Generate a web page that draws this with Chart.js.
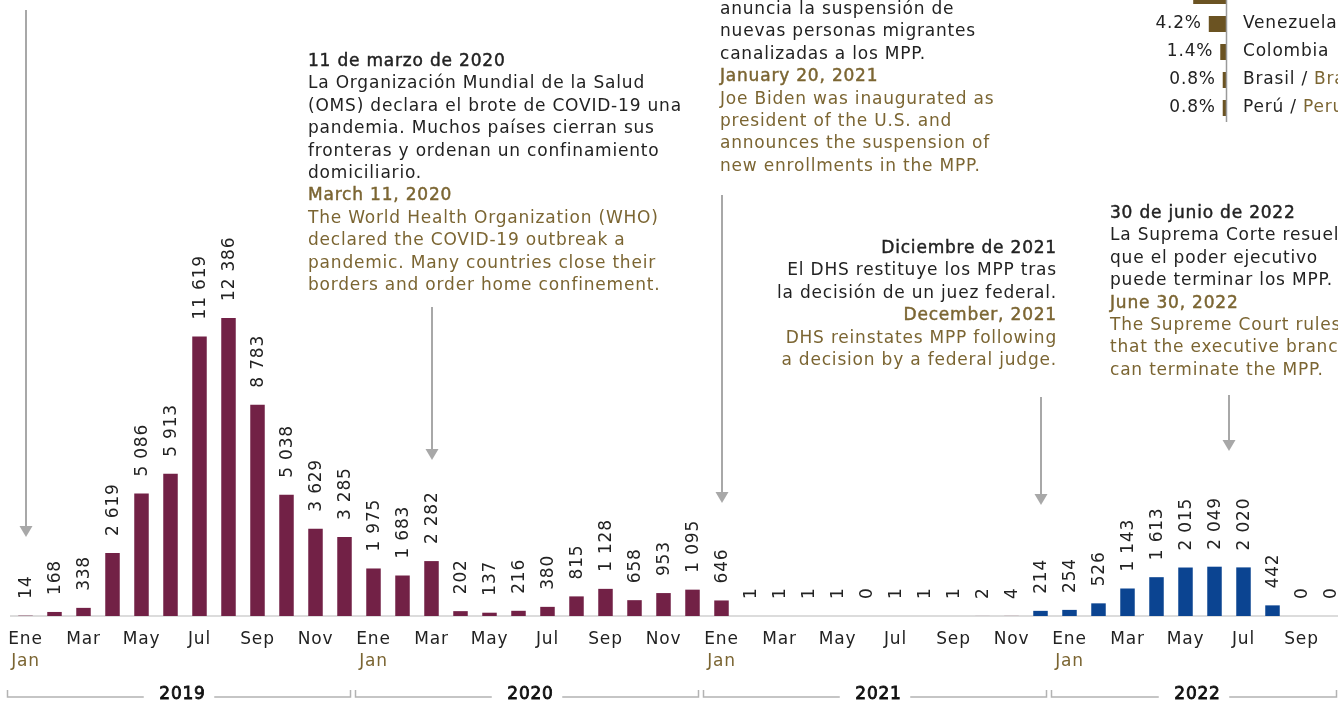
<!DOCTYPE html>
<html lang="es">
<head>
<meta charset="utf-8">
<title>MPP por mes</title>
<script src="https://cdn.jsdelivr.net/npm/chart.js@4.4.1/dist/chart.umd.min.js"></script>
<style>
  html, body { margin:0; padding:0; background:#fff; }
  body { position:relative; width:1338px; height:704px; overflow:hidden; font-family:"DejaVu Sans", sans-serif; }
  canvas { position:absolute; }
  #main { left:0; top:0; }
  #origin { left:1100px; top:-18px; }
  .note { position:absolute; font-size:17px; line-height:22.4px; color:#222; white-space:nowrap; letter-spacing:0.8px; }
  .note b { font-weight:normal; -webkit-text-stroke:0.45px currentColor; }
  .en { color:#7b6532; }
  .right { text-align:right; }
</style>
</head>
<body>
<canvas id="main" width="1346" height="704"></canvas>
<canvas id="origin" width="300" height="150"></canvas>

<div class="note" style="left:720px;top:-3px">anuncia la suspensión de<br>nuevas personas migrantes<br>canalizadas a los MPP.<br><b class="en">January 20, 2021</b><br><span class="en">Joe Biden was inaugurated as<br>president of the U.S. and<br>announces the suspension of<br>new enrollments in the MPP.</span></div>

<div class="note" style="left:308px;top:49px"><b>11 de marzo de 2020</b><br>La Organización Mundial de la Salud<br>(OMS) declara el brote de COVID-19 una<br>pandemia. Muchos países cierran sus<br>fronteras y ordenan un confinamiento<br>domiciliario.<br><b class="en">March 11, 2020</b><br><span class="en">The World Health Organization (WHO)<br>declared the COVID-19 outbreak a<br>pandemic. Many countries close their<br>borders and order home confinement.</span></div>

<div class="note right" style="right:281px;top:236px"><b>Diciembre de 2021</b><br>El DHS restituye los MPP tras<br>la decisión de un juez federal.<br><b class="en">December, 2021</b><br><span class="en">DHS reinstates MPP following<br>a decision by a federal judge.</span></div>

<div class="note" style="left:1110px;top:201px"><b>30 de junio de 2022</b><br>La Suprema Corte resuelve<br>que el poder ejecutivo<br>puede terminar los MPP.<br><b class="en">June 30, 2022</b><br><span class="en">The Supreme Court rules<br>that the executive branch<br>can terminate the MPP.</span></div>

<script>
const FONT = '"DejaVu Sans", sans-serif';
const DARK = '#222222';
const GOLD = '#7b6532';
const MAROON = '#722146';
const BLUE = '#0b4491';

const monthsEs = ['Ene','Feb','Mar','Abr','May','Jun','Jul','Ago','Sep','Oct','Nov','Dic'];
const monthJanEn = 'Jan';
const years = ['2019','2020','2021','2022'];

const counts2019 = [14, 168, 338, 2619, 5086, 5913, 11619, 12386, 8783, 5038, 3629, 3285];
const counts2020 = [1975, 1683, 2282, 202, 137, 216, 380, 815, 1128, 658, 953, 1095];
const counts2021 = [646, 1, 1, 1, 1, 0, 1, 1, 1, 2, 4, 214];
const counts2022 = [254, 526, 1143, 1613, 2015, 2049, 2020, 442, 0, 0];

// from Dic 2021 on, MPP reinstated (blue bars)
const reinstatedFrom = 35;

// month index each arrow points to
const eventMonths = [0, 14, 24, 35, 41.5];

const originNames = ['Ecuador', 'Venezuela', 'Colombia', 'Brasil', 'Perú'];
const originNamesEn = ['', '', '', 'Brazil', 'Peru'];
const originShares = [8.0, 4.2, 1.4, 0.8, 0.8];

const allCounts = [...counts2019, ...counts2020, ...counts2021, ...counts2022];
const labels = allCounts.map((_, i) => monthsEs[i % 12] + ' ' + years[Math.floor(i / 12)]);

// arrow top / tip y for each event
const arrowSpans = [[10, 537], [307, 460], [195, 503], [397, 505], [395, 451]];

function fmt(n){
  return String(n).replace(/\B(?=(\d{3})+(?!\d))/g, ' ');
}

const overlay = {
  id: 'overlay',
  afterDraw(chart){
    const { ctx } = chart;
    const x = chart.scales.x;
    const meta = chart.getDatasetMeta(0);
    ctx.save();
    ctx.letterSpacing = '0.8px';

    // value labels, rotated
    ctx.font = '17px ' + FONT;
    ctx.fillStyle = DARK;
    ctx.textAlign = 'left';
    ctx.textBaseline = 'middle';
    meta.data.forEach((bar, i) => {
      ctx.save();
      ctx.translate(bar.x + 1, bar.y - 17);
      ctx.rotate(-Math.PI / 2);
      ctx.fillText(fmt(allCounts[i]), 0, 0);
      ctx.restore();
    });

    // month labels every other month, english "Jan" under every "Ene"
    ctx.textAlign = 'center';
    labels.forEach((_, i) => {
      if (i % 2) return;
      ctx.fillStyle = DARK;
      ctx.fillText(monthsEs[i % 12], x.getPixelForValue(i), 640);
      if (i % 12 === 0){
        ctx.fillStyle = GOLD;
        ctx.fillText(monthJanEn, x.getPixelForValue(i), 662);
      }
    });

    // year brackets
    const half = (x.getPixelForValue(1) - x.getPixelForValue(0)) / 2;
    ctx.strokeStyle = '#b3b3b3';
    ctx.lineWidth = 1.5;
    years.forEach((yr, k) => {
      const first = k * 12;
      const last = Math.min(first + 11, allCounts.length - 1);
      const l = x.getPixelForValue(first) - half - 3.5;
      const r = x.getPixelForValue(last) + half - 8.5;
      const c = (l + r) / 2;
      const w = ctx.measureText(yr).width / 2 + 12;
      const y = 697;
      ctx.beginPath();
      ctx.moveTo(l, 690); ctx.lineTo(l, y); ctx.lineTo(c - w, y);
      ctx.moveTo(c + w, y); ctx.lineTo(r, y); ctx.lineTo(r, 690);
      ctx.stroke();
    });
    ctx.fillStyle = '#111';
    ctx.strokeStyle = '#111';
    ctx.lineWidth = 0.8;
    years.forEach((yr, k) => {
      const first = k * 12;
      const last = Math.min(first + 11, allCounts.length - 1);
      const c = (x.getPixelForValue(first) + x.getPixelForValue(last)) / 2 - 2.5;
      ctx.fillText(yr, c, 695);
      ctx.strokeText(yr, c, 695);
    });

    // arrows
    ctx.strokeStyle = '#a8a8a8';
    ctx.fillStyle = '#a8a8a8';
    ctx.lineWidth = 2;
    eventMonths.forEach((m, k) => {
      const px = Math.round(x.getPixelForValue(m));
      const [top, tip] = arrowSpans[k];
      ctx.beginPath();
      ctx.moveTo(px, top); ctx.lineTo(px, tip - 10);
      ctx.stroke();
      ctx.beginPath();
      ctx.moveTo(px - 6.5, tip - 11); ctx.lineTo(px + 6.5, tip - 11); ctx.lineTo(px, tip);
      ctx.closePath();
      ctx.fill();
    });
    ctx.restore();
  }
};

new Chart(document.getElementById('main'), {
  type: 'bar',
  data: {
    labels,
    datasets: [{
      data: allCounts,
      backgroundColor: c => c.dataIndex >= reinstatedFrom ? BLUE : MAROON,
      barPercentage: 0.5,
      categoryPercentage: 1
    }]
  },
  options: {
    responsive: false,
    animation: false,
    events: [],
    layout: { autoPadding: false, padding: { left: 11, right: 1, top: 0, bottom: 0 } },
    scales: {
      x: {
        grid: { display: false, drawTicks: false },
        border: { color: '#dcdcdc', width: 2 },
        ticks: { display: false, padding: 0 },
        afterFit(axis){ axis.height = 88; }
      },
      y: { display: false, min: 0, max: 25600 }
    },
    plugins: { legend: { display: false }, tooltip: { enabled: false } }
  },
  plugins: [overlay]
});

const originText = {
  id: 'originText',
  afterDraw(chart){
    const { ctx, chartArea } = chart;
    const meta = chart.getDatasetMeta(0);
    ctx.save();
    ctx.letterSpacing = '0.8px';
    ctx.strokeStyle = '#9a9a9a';
    ctx.lineWidth = 1.5;
    ctx.beginPath();
    ctx.moveTo(chartArea.right + 0.5, chartArea.top);
    ctx.lineTo(chartArea.right + 0.5, chartArea.bottom);
    ctx.stroke();
    ctx.font = '17px ' + FONT;
    ctx.textBaseline = 'middle';
    meta.data.forEach((bar, i) => {
      ctx.fillStyle = DARK;
      ctx.textAlign = 'right';
      ctx.fillText(originShares[i].toFixed(1) + '%', bar.x - 7, bar.y);
      ctx.textAlign = 'left';
      const tx = chartArea.right + 17;
      if (originNamesEn[i]){
        const es = originNames[i] + ' / ';
        ctx.fillText(es, tx, bar.y);
        ctx.fillStyle = GOLD;
        ctx.fillText(originNamesEn[i], tx + ctx.measureText(es).width, bar.y);
      } else {
        ctx.fillText(originNames[i], tx, bar.y);
      }
    });
    ctx.restore();
  }
};

new Chart(document.getElementById('origin'), {
  type: 'bar',
  data: {
    labels: originNames,
    datasets: [{ data: originShares, backgroundColor: '#6b5322', barPercentage: 0.57, categoryPercentage: 1 }]
  },
  options: {
    indexAxis: 'y',
    responsive: false,
    animation: false,
    events: [],
    layout: { autoPadding: false, padding: { left: 85, right: 174, top: 0, bottom: 10 } },
    scales: {
      x: { display: false, reverse: true, min: 0, max: 10 },
      y: { display: false }
    },
    plugins: { legend: { display: false }, tooltip: { enabled: false } }
  },
  plugins: [originText]
});
</script>
</body>
</html>
